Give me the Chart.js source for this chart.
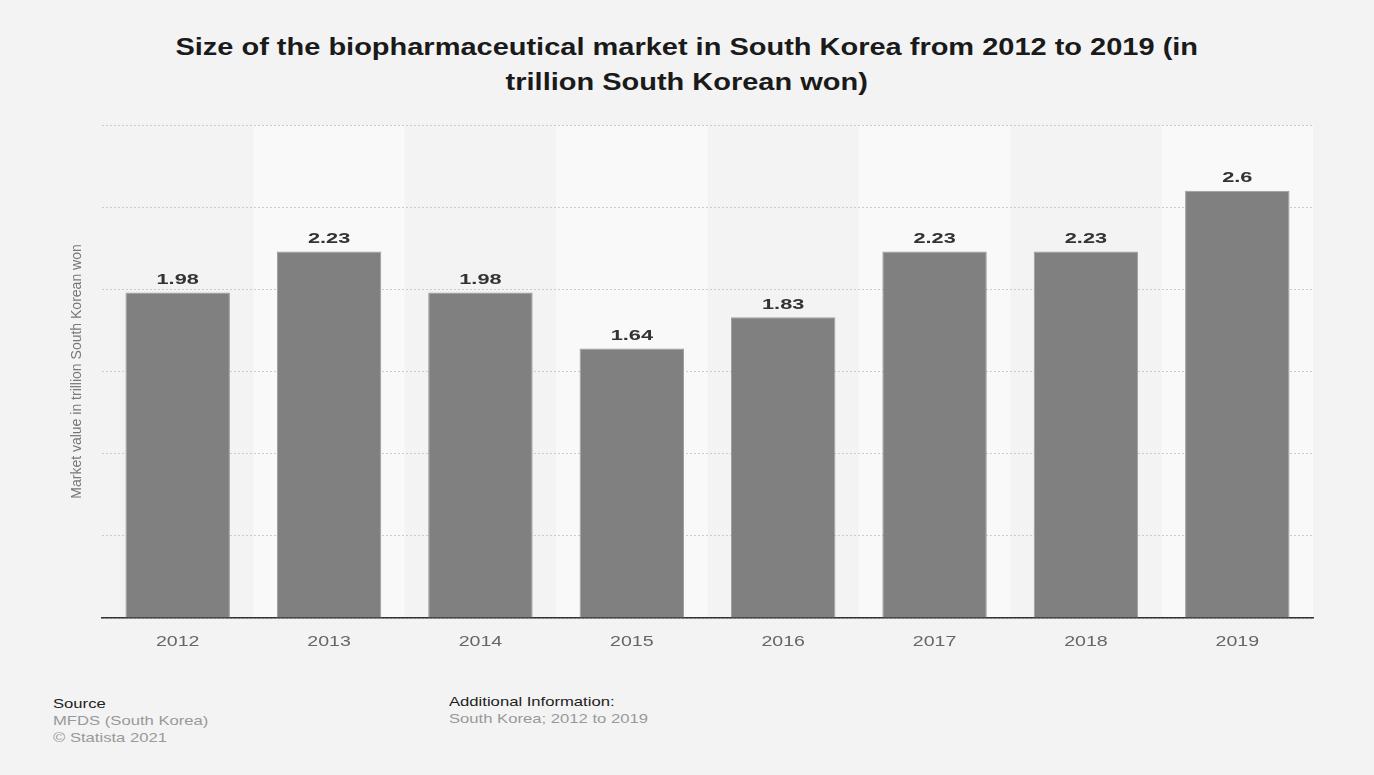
<!DOCTYPE html>
<html>
<head>
<meta charset="utf-8">
<script src="https://cdn.jsdelivr.net/npm/chart.js@4.4.1/dist/chart.umd.min.js"></script>
<style>
    html, body { margin: 0; padding: 0; background: #f3f3f3; }
    body { width: 1374px; height: 775px; position: relative; overflow: hidden; font-family: "Liberation Sans", Arial, sans-serif; }
    #title { position: absolute; left: 0; top: 30px; width: 1374px; text-align: center; font-weight: bold; font-size: 23px; line-height: 35px; color: #1a1a1a; transform: scaleX(1.26); transform-origin: 688px 0; }
    #wrap { position: absolute; left: 0; top: 100px; width: 1374px; height: 580px; }
    .foot { position: absolute; font-size: 13px; line-height: 17px; color: #999; transform: scaleX(1.28); transform-origin: 0 0; }
    .foot b { font-weight: normal; color: #222; }
</style>
</head>
<body>
<div id="title">Size of the biopharmaceutical market in South Korea from 2012 to 2019 (in<br>trillion South Korean won)</div>
<div id="wrap"><canvas id="biopharmaChart"></canvas></div>
<div class="foot" style="left:53px; top:695px;"><b>Source</b><br>MFDS (South Korea)<br>© Statista 2021</div>
<div class="foot" style="left:449px; top:693px;"><b>Additional Information:</b><br>South Korea; 2012 to 2019</div>
<script>
const years = ["2012", "2013", "2014", "2015", "2016", "2017", "2018", "2019"];
const marketValues = [1.98, 2.23, 1.98, 1.64, 1.83, 2.23, 2.23, 2.6];
const valueLabels = ["1.98", "2.23", "1.98", "1.64", "1.83", "2.23", "2.23", "2.6"];

// lighter background band behind every second year
const bandPlugin = {
    id: "bands",
    beforeDraw(chart) {
        const { ctx, chartArea, scales } = chart;
        const x = scales.x;
        const step = x.getPixelForValue(1) - x.getPixelForValue(0);
        ctx.save();
        ctx.fillStyle = "#f9f9f9";
        years.forEach((y, i) => {
            if (i % 2 === 1) {
                const cx = x.getPixelForValue(i);
                ctx.fillRect(cx - step / 2, chartArea.top, step, chartArea.bottom - chartArea.top);
            }
        });
        ctx.restore();
    }
};

// text in the original is drawn wide, so stretch it horizontally
const drawWide = (ctx, text, x, y, sx) => {
    ctx.save();
    ctx.translate(x, y);
    ctx.scale(sx, 1);
    ctx.fillText(text, 0, 0);
    ctx.restore();
};

const labelPlugin = {
    id: "labels",
    afterDatasetsDraw(chart) {
        const { ctx, chartArea, scales } = chart;
        const meta = chart.getDatasetMeta(0);
        ctx.save();
        ctx.textAlign = "center";
        ctx.font = "bold 15px 'Liberation Sans', Arial, sans-serif";
        ctx.fillStyle = "#333333";
        ctx.textBaseline = "bottom";
        meta.data.forEach((bar, i) => {
            drawWide(ctx, valueLabels[i], bar.x, bar.y - 5, 1.45);
        });
        ctx.font = "14px 'Liberation Sans', Arial, sans-serif";
        ctx.fillStyle = "#666666";
        ctx.textBaseline = "middle";
        years.forEach((y, i) => {
            drawWide(ctx, y, scales.x.getPixelForValue(i), chartArea.bottom + 24, 1.4);
        });
        ctx.restore();
    }
};

document.addEventListener("DOMContentLoaded", () => {
    new Chart(document.getElementById("biopharmaChart"), {
        type: "bar",
        data: {
            labels: years,
            datasets: [{
                data: marketValues,
                backgroundColor: "#808080",
                borderColor: "#9c9c9c",
                borderWidth: 1,
                barPercentage: 0.69,
                categoryPercentage: 1
            }]
        },
        options: {
            responsive: true,
            maintainAspectRatio: false,
            animation: false,
            layout: { padding: { top: 25, right: 61, bottom: 22, left: 0 } },
            plugins: { legend: { display: false }, tooltip: { enabled: false } },
            scales: {
                x: {
                    grid: { display: false },
                    border: { display: true, color: "#333333", width: 1.5 },
                    ticks: { display: false },
                    afterFit: (scale) => { scale.height = 40; }
                },
                y: {
                    min: 0,
                    max: 3,
                    ticks: { display: false, stepSize: 0.5 },
                    grid: { color: "#cccccc", drawTicks: false, lineWidth: 1 },
                    border: { display: false, dash: [2, 2] },
                    title: {
                        display: true,
                        text: "Market value in trillion South Korean won",
                        color: "#777777",
                        font: { family: "'Liberation Sans Narrow', 'Liberation Sans', Arial, sans-serif", size: 14 },
                        padding: { top: 69, bottom: 0 }
                    },
                    afterFit: (scale) => { scale.width = 102; }
                }
            }
        },
        plugins: [bandPlugin, labelPlugin]
    });
});
</script>
</body>
</html>
